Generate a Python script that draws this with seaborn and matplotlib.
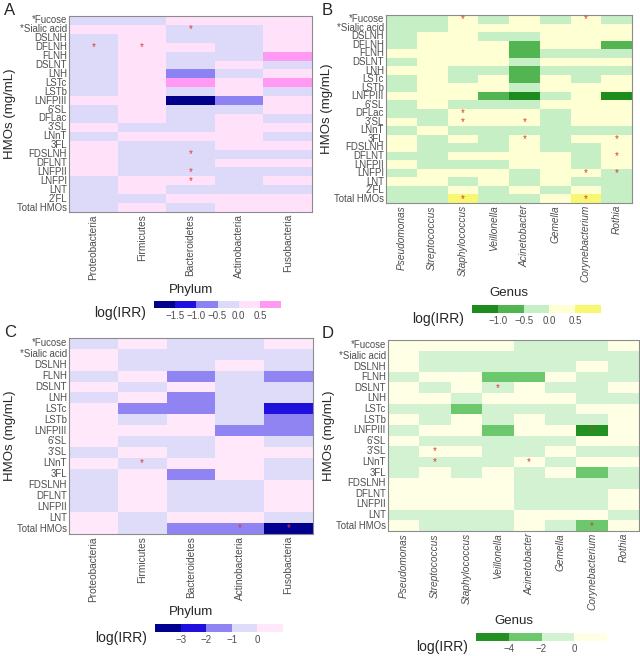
import pandas as pd
import matplotlib
matplotlib.use("Agg")
import matplotlib.pyplot as plt
import seaborn as sns
from matplotlib.colors import ListedColormap, BoundaryNorm
from matplotlib.cm import ScalarMappable

sns.set_theme(style="white")
plt.rcParams['font.family'] = ['Liberation Sans', 'DejaVu Sans']

# categories
phyla = ['Proteobacteria', 'Firmicutes', 'Bacteroidetes', 'Actinobacteria', 'Fusobacteria']
genera = ['Pseudomonas', 'Streptococcus', 'Staphylococcus', 'Veillonella',
          'Acinetobacter', 'Gemella', 'Corynebacterium', 'Rothia']
hmos_top = ['*Fucose', '*Sialic acid', 'DSLNH', 'DFLNH', 'FLNH', 'DSLNT', 'LNH', 'LSTc',
            'LSTb', 'LNFPIII', '6’SL', 'DFLac', '3’SL', 'LNnT', '3FL', 'FDSLNH', 'DFLNT',
            'LNFPII', 'LNFPI', 'LNT', '2’FL', 'Total HMOs']
hmos_bottom = ['*Fucose', '*Sialic acid', 'DSLNH', 'FLNH', 'DSLNT', 'LNH', 'LSTc', 'LSTb',
               'LNFPIII', '6’SL', '3’SL', 'LNnT', '3FL', 'FDSLNH', 'DFLNT', 'LNFPII',
               'LNT', 'Total HMOs']

# log(IRR) estimates (read from the binned colours)
irr_A = [
    [-0.25, -0.25, 0.25, 0.25, 0.25],
    [0.25, 0.25, -0.25, -0.25, 0.25],
    [-0.25, 0.25, -0.25, -0.25, 0.25],
    [-0.25, 0.25, 0.25, -0.25, 0.25],
    [-0.25, 0.25, -0.25, -0.25, 0.75],
    [-0.25, 0.25, -0.25, 0.25, -0.25],
    [-0.25, 0.25, -0.75, -0.25, 0.25],
    [-0.25, 0.25, 0.75, 0.25, 0.75],
    [-0.25, 0.25, -0.25, 0.25, -0.25],
    [0.25, 0.25, -1.75, -0.75, 0.25],
    [-0.25, 0.25, -0.25, -0.25, 0.25],
    [-0.25, 0.25, -0.25, 0.25, -0.25],
    [0.25, -0.25, -0.25, 0.25, 0.25],
    [-0.25, 0.25, 0.25, 0.25, -0.25],
    [0.25, -0.25, -0.25, 0.25, 0.25],
    [0.25, -0.25, -0.25, -0.25, -0.25],
    [0.25, -0.25, -0.25, 0.25, 0.25],
    [0.25, -0.25, -0.25, -0.25, -0.25],
    [-0.25, 0.25, 0.25, -0.25, 0.25],
    [-0.25, 0.25, -0.25, -0.25, -0.25],
    [-0.25, -0.25, 0.25, 0.25, 0.25],
    [-0.25, 0.25, -0.25, 0.25, 0.25],
]
irr_B = [
    [-0.25, -0.25, 0.25, -0.25, 0.25, -0.25, 0.25, -0.25],
    [-0.25, -0.25, 0.25, 0.25, 0.25, 0.25, 0.25, 0.25],
    [-0.25, 0.25, 0.25, -0.25, -0.25, 0.25, 0.25, 0.25],
    [-0.25, 0.25, 0.25, 0.25, -0.75, 0.25, 0.25, -0.75],
    [0.25, 0.25, 0.25, 0.25, -0.75, -0.25, -0.25, -0.25],
    [-0.25, 0.25, 0.25, 0.25, -0.25, 0.25, 0.25, 0.25],
    [0.25, 0.25, -0.25, -0.25, -0.75, -0.25, -0.25, -0.25],
    [-0.25, 0.25, -0.25, 0.25, -0.75, 0.25, -0.25, 0.25],
    [-0.25, 0.25, 0.25, 0.25, -0.25, 0.25, 0.25, 0.25],
    [0.25, 0.25, 0.25, -0.75, -1.25, -0.25, 0.25, -1.25],
    [-0.25, 0.25, -0.25, -0.25, -0.25, 0.25, 0.25, 0.25],
    [-0.25, -0.25, 0.25, 0.25, 0.25, -0.25, 0.25, 0.25],
    [0.25, -0.25, 0.25, 0.25, 0.25, -0.25, 0.25, 0.25],
    [-0.25, 0.25, -0.25, -0.25, -0.25, -0.25, -0.25, -0.25],
    [0.25, -0.25, 0.25, -0.25, 0.25, -0.25, 0.25, 0.25],
    [0.25, -0.25, -0.25, -0.25, 0.25, -0.25, -0.25, 0.25],
    [-0.25, -0.25, 0.25, 0.25, 0.25, 0.25, -0.25, 0.25],
    [0.25, -0.25, -0.25, -0.25, 0.25, 0.25, -0.25, 0.25],
    [-0.25, 0.25, 0.25, 0.25, -0.25, 0.25, 0.25, -0.25],
    [0.25, 0.25, -0.25, 0.25, -0.25, 0.25, -0.25, -0.25],
    [-0.25, -0.25, 0.25, -0.25, 0.25, -0.25, 0.25, -0.25],
    [-0.25, -0.25, 0.75, -0.25, -0.25, 0.25, 0.75, -0.25],
]
irr_C = [
    [-0.5, 0.5, -0.5, -0.5, 0.5],
    [0.5, -0.5, -0.5, -0.5, -0.5],
    [0.5, -0.5, -0.5, 0.5, -0.5],
    [-0.5, 0.5, -1.5, -0.5, -1.5],
    [0.5, -0.5, 0.5, -0.5, -0.5],
    [-0.5, 0.5, -1.5, -0.5, -0.5],
    [0.5, -1.5, -1.5, -0.5, -2.5],
    [0.5, -0.5, 0.5, -0.5, -1.5],
    [0.5, 0.5, 0.5, -1.5, -1.5],
    [0.5, -0.5, -0.5, 0.5, -0.5],
    [-0.5, 0.5, -0.5, 0.5, 0.5],
    [0.5, -0.5, 0.5, 0.5, -0.5],
    [-0.5, 0.5, -1.5, 0.5, -0.5],
    [-0.5, 0.5, -0.5, -0.5, 0.5],
    [-0.5, 0.5, -0.5, -0.5, 0.5],
    [-0.5, 0.5, -0.5, -0.5, 0.5],
    [0.5, -0.5, 0.5, 0.5, -0.5],
    [0.5, -0.5, -1.5, -1.5, -3.5],
]
irr_D = [
    [1, 1, 1, 1, -1, -1, -1, 1],
    [1, -1, -1, -1, -1, -1, -1, -1],
    [1, -1, -1, -1, -1, -1, 1, -1],
    [-1, 1, 1, -3, -3, 1, -1, -1],
    [1, -1, 1, -1, 1, -1, -1, 1],
    [1, 1, -1, 1, 1, 1, -1, -1],
    [-1, -1, -3, -1, -1, -1, 1, 1],
    [1, -1, 1, -1, 1, -1, -1, 1],
    [-1, 1, 1, -3, 1, 1, -5, 1],
    [1, -1, -1, -1, -1, -1, 1, 1],
    [-1, 1, 1, -1, -1, 1, -1, -1],
    [-1, -1, -1, -1, 1, -1, 1, 1],
    [-1, 1, -1, 1, -1, 1, -3, -1],
    [1, 1, 1, 1, -1, -1, -1, -1],
    [1, 1, 1, 1, -1, -1, -1, 1],
    [1, 1, 1, 1, -1, -1, -1, 1],
    [-1, -1, -1, -1, 1, 1, 1, -1],
    [1, -1, -1, -1, 1, -1, -3, 1],
]

# significant cells (hmo, taxon)
stars_A = [('*Sialic acid', 'Bacteroidetes'), ('DFLNH', 'Proteobacteria'), ('DFLNH', 'Firmicutes'),
           ('FDSLNH', 'Bacteroidetes'), ('LNFPII', 'Bacteroidetes'), ('LNFPI', 'Bacteroidetes')]
stars_B = [('*Fucose', 'Staphylococcus'), ('*Fucose', 'Corynebacterium'), ('DFLac', 'Staphylococcus'),
           ('3’SL', 'Staphylococcus'), ('3’SL', 'Acinetobacter'), ('3FL', 'Acinetobacter'),
           ('3FL', 'Rothia'), ('DFLNT', 'Rothia'), ('LNFPI', 'Corynebacterium'), ('LNFPI', 'Rothia'),
           ('Total HMOs', 'Staphylococcus'), ('Total HMOs', 'Corynebacterium')]
stars_C = [('LNnT', 'Firmicutes'), ('Total HMOs', 'Actinobacteria'), ('Total HMOs', 'Fusobacteria')]
stars_D = [('DSLNT', 'Veillonella'), ('LNFPIII', 'Corynebacterium'), ('3’SL', 'Streptococcus'),
           ('LNnT', 'Streptococcus'), ('LNnT', 'Acinetobacter'), ('Total HMOs', 'Corynebacterium')]

# binned colour scales
colors_A = ['#00008B', '#1E10E0', '#8C82F2', '#DCDAF8', '#FFE2FA', '#FF99F3']
bounds_A = [-2, -1.5, -1, -0.5, 0, 0.5, 1]
labels_A = ['−1.5', '−1.0', '−0.5', '0.0', '0.5']
colors_B = ['#1E8B1E', '#52B552', '#C6EFC6', '#FFFFD4', '#F7F772']
bounds_B = [-1.5, -1, -0.5, 0, 0.5, 1]
labels_B = ['−1.0', '−0.5', '0.0', '0.5']
colors_C = ['#000090', '#2010DD', '#8F84F2', '#DEDCF8', '#FFE8FA']
bounds_C = [-4, -3, -2, -1, 0, 1]
labels_C = ['−3', '−2', '−1', '0']
colors_D = ['#239023', '#6CC86C', '#D2F2D2', '#FFFFE6']
bounds_D = [-6, -4, -2, 0, 2]
labels_D = ['−4', '−2', '0']

W, H = 640, 656
fig = plt.figure(figsize=(6.4, 6.56), dpi=100)


def box(l, t, r, b):
    return [l / W, 1 - b / H, (r - l) / W, (b - t) / H]


def draw_panel(grid, cbar, values, rows, cols, colors, bounds, labels, stars, xlabel, italic):
    ax = fig.add_axes(box(*grid))
    cax = fig.add_axes(box(*cbar))
    cmap = ListedColormap(colors)
    norm = BoundaryNorm(bounds, len(colors))
    df = pd.DataFrame(values, index=rows, columns=cols)
    sns.heatmap(df, cmap=cmap, norm=norm, cbar=False, ax=ax,
                xticklabels=True, yticklabels=True, linewidths=0)
    for hmo, taxon in stars:
        ax.text(cols.index(taxon) + 0.5, rows.index(hmo) + 0.5, '*', color='#D93A3A',
                ha='center', va='center', fontsize=7)
    for s in ax.spines.values():
        s.set_visible(True)
        s.set_color('#8C8C8C')
        s.set_linewidth(0.8)
    ax.tick_params(length=0, pad=1.5, colors='#4D4D4D')
    ax.set_yticklabels(rows, fontsize=6.9, color='#4D4D4D')
    ax.set_xticklabels(cols, rotation=90, fontsize=7.3, color='#4D4D4D',
                       fontstyle='italic' if italic else 'normal')
    ax.set_xlabel(xlabel, fontsize=9.5, labelpad=3)
    ax.set_ylabel('HMOs (mg/mL)', fontsize=9.5, labelpad=1)

    sm = ScalarMappable(norm=norm, cmap=cmap)
    cb = fig.colorbar(sm, cax=cax, orientation='horizontal', spacing='uniform',
                      ticks=bounds[1:-1])
    cb.outline.set_visible(False)
    cb.set_ticklabels(labels)
    cax.minorticks_off()
    cax.tick_params(which='both', length=0, pad=2, labelsize=7, colors='#4D4D4D')
    cax.text(-0.06, -0.7, 'log(IRR)', transform=cax.transAxes, ha='right', va='center',
             fontsize=10)
    return ax


draw_panel((69, 16, 312, 212), (154, 301, 281, 308), irr_A, hmos_top, phyla,
           colors_A, bounds_A, labels_A, stars_A, 'Phylum', False)
draw_panel((386, 15, 632, 203), (472, 305, 601, 313), irr_B, hmos_top, genera,
           colors_B, bounds_B, labels_B, stars_B, 'Genus', True)
draw_panel((69, 338, 313, 534), (155, 624, 283, 632), irr_C, hmos_bottom, phyla,
           colors_C, bounds_C, labels_C, stars_C, 'Phylum', False)
draw_panel((388, 340, 639, 531), (476, 633, 607, 641), irr_D, hmos_bottom, genera,
           colors_D, bounds_D, labels_D, stars_D, 'Genus', True)

for letter, x, y in [('A', 4, 3), ('B', 322, 3), ('C', 4, 325), ('D', 322, 326)]:
    fig.text(x / W, 1 - y / H, letter, fontsize=12, va='top', ha='left')

fig.savefig('out.png', dpi=100)
